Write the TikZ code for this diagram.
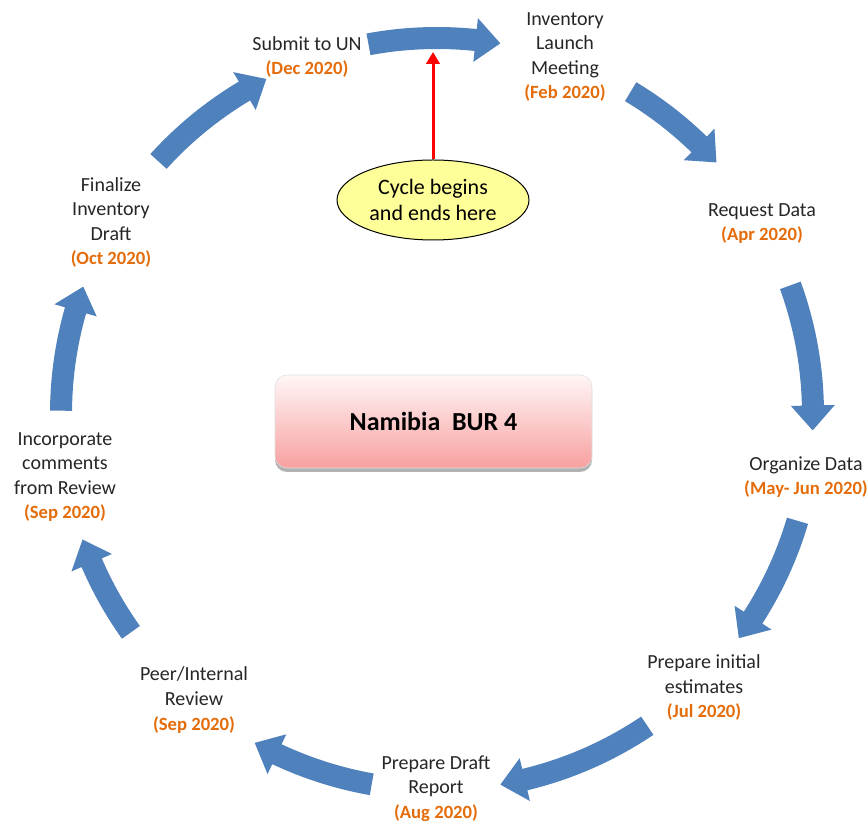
\documentclass[tikz,border=0pt]{standalone}
\usepackage{fontspec}
\setmainfont{Carlito}
\usetikzlibrary{calc,shadows,arrows.meta,shapes.geometric}
\definecolor{cycblue}{HTML}{4F81BD}
\definecolor{dateor}{HTML}{E46C0A}
\definecolor{txt}{HTML}{262626}
\definecolor{ellfill}{HTML}{FFFF99}
\definecolor{boxtop}{HTML}{FFF6F6}
\definecolor{boxmid}{HTML}{FCD2D2}
\definecolor{boxbot}{HTML}{F8A0A0}
\newcommand{\cycarrow}[2]{%
  \fill[cycblue] (#1:387) arc[start angle=#1, end angle={#2+3.8}, radius=387]
    -- ({#2+3.8}:398) -- (#2:376) -- ({#2+3.8}:354) -- ({#2+3.8}:365)
    arc[start angle={#2+3.8}, end angle=#1, radius=365] -- cycle;}
\newcommand{\dt}[1]{\textcolor{dateor}{\fontsize{14}{18.4}\selectfont\bfseries #1}}
\begin{document}
\begin{tikzpicture}[x=0.75pt,y=0.75pt,
  lbl/.style={align=center, text=txt, font=\fontsize{15}{18.4}\selectfont, inner sep=0pt}]
\useasboundingbox (0,0) rectangle (868,821);
\begin{scope}[shift={(437,407)}]
\cycarrow{100.5}{80.3}
\cycarrow{59}{42}
\cycarrow{20}{-2.5}
\cycarrow{-16.5}{-36.6}
\cycarrow{-56}{-80.3}
\cycarrow{-100}{-119}
\cycarrow{-144.5}{-160.5}
\cycarrow{179.5}{160.2}
\cycarrow{137.8}{117}
\end{scope}
\node[lbl] (submit) at (307,764) {Submit to UN\\\dt{(Dec 2020)}};
\node[lbl] (launch) at (565,764) {Inventory\\Launch\\Meeting\\\dt{(Feb 2020)}};
\node[lbl] (request) at (762,597.5) {Request Data\\\dt{(Apr 2020)}};
\node[lbl] (organize) at (806,344) {Organize Data\\\dt{(May- Jun 2020)}};
\node[lbl] (initial) at (704,133.5) {Prepare initial\\estimates\\\dt{(Jul 2020)}};
\node[lbl] (draft) at (436,32.5) {Prepare Draft\\Report\\\dt{(Aug 2020)}};
\node[lbl] (peer) at (194,121) {Peer/Internal\\Review\\\dt{(Sep 2020)}};
\node[lbl] (incorp) at (65,344) {Incorporate\\comments\\from Review\\\dt{(Sep 2020)}};
\node[lbl] (final) at (111,598.5) {Finalize\\Inventory\\Draft\\\dt{(Oct 2020)}};
\node[draw=gray!25, rounded corners=9pt, minimum width=237.75pt, minimum height=69.75pt,
  top color=boxtop, middle color=boxmid, bottom color=boxbot,
  drop shadow={shadow xshift=0pt, shadow yshift=-3pt, opacity=0.3, fill=black},
  font=\fontsize{19.5}{23}\selectfont\bfseries, text=black] (bur) at (433.5,399.5) {Namibia\ \ BUR 4};
\node[ellipse, draw=black, line width=0.75pt, fill=ellfill, minimum width=144pt, minimum height=60pt,
  inner sep=0pt, align=center, font=\fontsize{16.5}{19.5}\selectfont, text=black] (ell) at (433,621)
  {Cycle begins\\and ends here};
\coordinate (start) at (433,769);
\draw[red, line width=2.25pt, -{Triangle[length=9pt,width=10pt]}] (ell.north) -- (start);
\end{tikzpicture}
\end{document}
